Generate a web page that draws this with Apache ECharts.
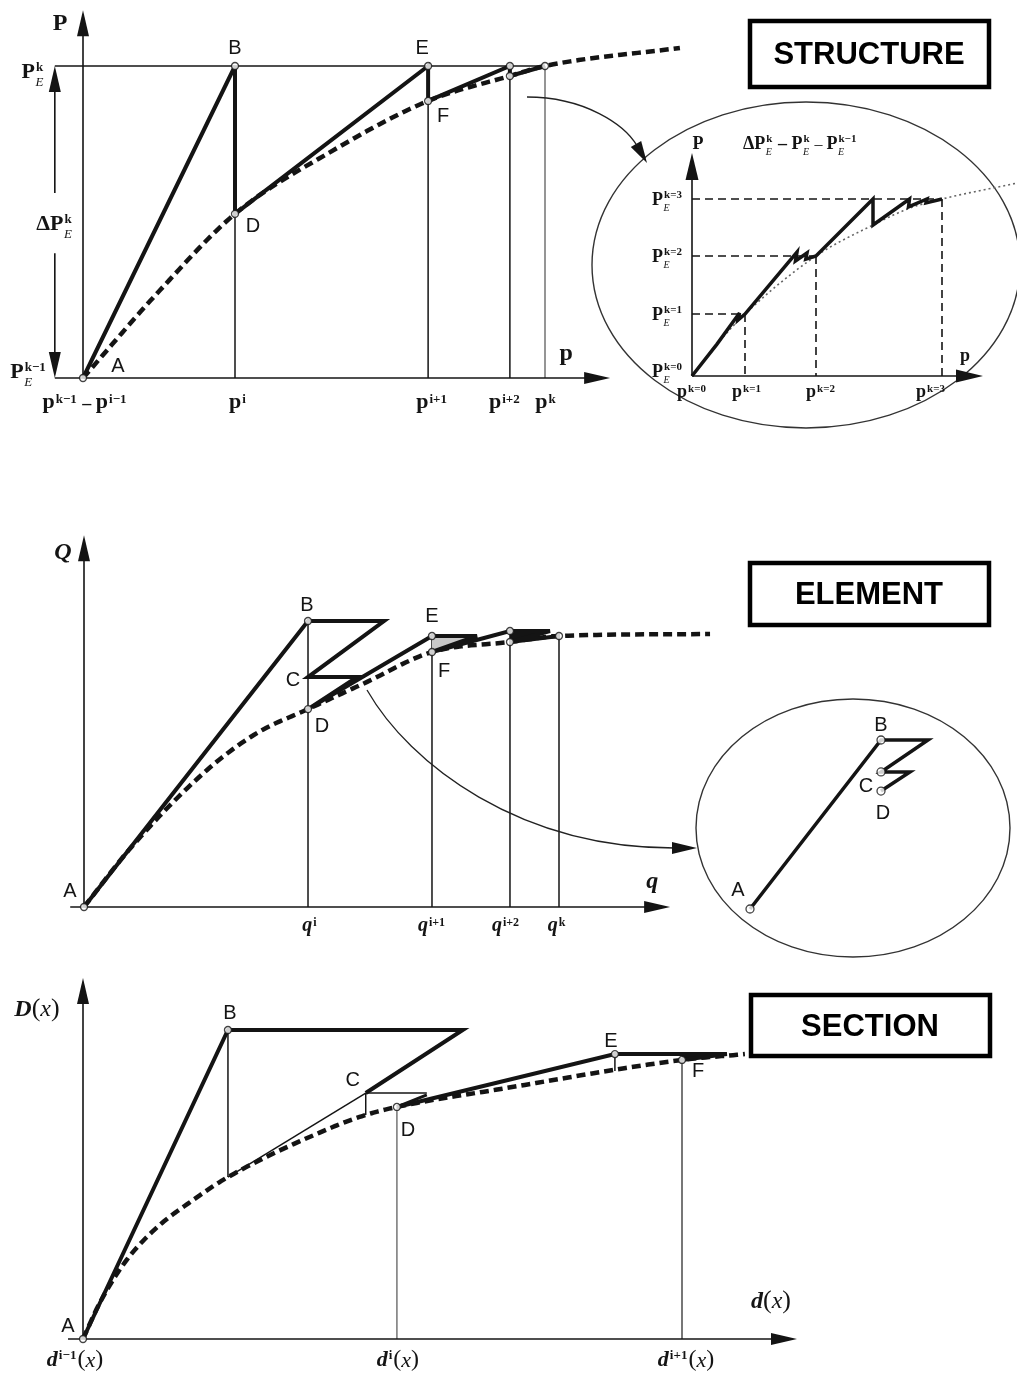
<!DOCTYPE html>
<html>
<head>
<meta charset="utf-8">
<title>Structure, element and section state determination</title>
<script src="https://cdn.jsdelivr.net/npm/echarts@6/dist/echarts.min.js"></script>
<style>
html,body{margin:0;padding:0;background:#fff;}
#chart{width:1017px;height:1385px;}
</style>
</head>
<body>
<div id="chart"></div>
<script>
// ---------- STRUCTURE level: load P vs displacement p (scaled so p^k = 1, P_E^k = 1)
const pTicks = [0, 0.329, 0.747, 0.924, 1];                 // p^{k-1}, p^i, p^{i+1}, p^{i+2}, p^k
const pTickSups = ['i', 'i+1', 'i+2', 'k'];
const structBackbone = [[0,0],[0.167,0.282],[0.329,0.526],[0.535,0.724],[0.747,0.888],[0.924,0.968],[1,1],[1.292,1.058]];
const structPath = [[0,0],[0.329,1],[0.329,0.526],[0.747,1],[0.747,0.888],[0.924,1],[0.924,0.968],[1,1]];

// ---------- STRUCTURE detail: load steps k = 0..3
const kTicksP  = [0, 0.212, 0.496, 1];
const kTicksPE = [0, 0.35, 0.678, 1];
const kBackbone = [[0,0],[0.1,0.18],[0.212,0.35],[0.496,0.678],[0.724,0.853],[0.872,0.949],[1,1],[1.3,1.09]];
const kPath = [[0,0],[0.1,0.18],[0.19,0.356],[0.184,0.316],[0.212,0.35],[0.42,0.7],[0.414,0.65],[0.46,0.695],[0.455,0.66],[0.496,0.678],[0.724,1],[0.724,0.853],[0.87,1],[0.866,0.955],[0.94,1],[0.936,0.978],[1,1]];

// ---------- ELEMENT level: Q vs q
const qTicks = [0.4716, 0.7326, 0.8968, 1];                  // q^i, q^{i+1}, q^{i+2}, q^k
const qTickSups = ['i', 'i+1', 'i+2', 'k'];
const elemBackbone = [[0,0],[0.1,0.21],[0.259,0.479],[0.364,0.608],[0.4716,0.692],[0.587,0.78],[0.7326,0.8916],[0.8968,0.9266],[1,0.9476],[1.318,0.9545]];
// A, B, B', C, C', D, E, E', F, G, G', H, K
const elemPath = [[0,0],[0.4716,1],[0.6316,1],[0.4716,0.804],[0.5747,0.804],[0.4716,0.692],[0.7326,0.9476],[0.8274,0.9476],[0.7326,0.8916],[0.8968,0.965],[0.981,0.965],[0.8968,0.9266],[1,0.9476]];
const elemNodes = [0, 1, 5, 6, 8, 9, 11, 12];

// ---------- ELEMENT detail: A, B, B', C, C', D
const elemDetail = [[0,0],[1,1],[1.359,1],[1,0.811],[1.221,0.811],[1,0.698]];
const elemDetailNodes = [0, 1, 3, 5];

// ---------- SECTION level: D(x) vs d(x)
const dTicks = [0, 0.524, 1];                                // d^{i-1}, d^i, d^{i+1}
const dTickSups = ['i−1', 'i', 'i+1'];
const sectBackbone = [[0,0],[0.028,0.117],[0.073,0.256],[0.124,0.362],[0.184,0.45],[0.242,0.524],[0.417,0.686],[0.472,0.725],[0.524,0.751],[0.7,0.81],[1,0.903],[1.105,0.922]];
const sectPathB = [[0,0],[0.242,1],[0.634,1],[0.472,0.796]];           // A, B, B', C
const sectPathE = [[0.524,0.751],[0.888,0.922],[1.075,0.922],[1,0.903]]; // D, E, E', F
const sectC = [0.472, 0.796], sectCBase = [0.472, 0.725], sectBBase = [0.242, 0.524];
const sectCEnd = [0.574, 0.796], sectEBase = [0.888, 0.867];

// ---------- drawing helpers
const INK = '#141414';
const SERIF = '"Liberation Serif","Times New Roman",serif';
const SANS = '"Liberation Sans",Arial,sans-serif';

const run = (t, size, style = 'bold', fam = SERIF) => ({ t, size, font: style + ' ' + size + 'px ' + fam });
const letter = t => run(t, 20, 'normal', SANS);
function idx(sup, sub, base, o = {}) {
  return {
    sup: sup ? run(sup, o.supSize || Math.round(base * 0.6), o.supStyle || 'bold') : null,
    sub: sub ? run(sub, o.subSize || Math.round(base * 0.58), 'italic') : null,
    rise: base * (o.lower ? 0.27 : 0.38),
    drop: base * 0.3,
    gap: 1
  };
}

const mctx = document.createElement('canvas').getContext('2d');
function textWidth(r) { mctx.font = r.font; return mctx.measureText(r.t).width; }

// lays out a run list with stacked super/subscripts; (x, y) is the baseline anchor
function mathElements(parts, x, y, align) {
  const pieces = [];
  let w = 0;
  parts.forEach(p => {
    if (p.t !== undefined) { pieces.push({ r: p, x: w, dy: 0 }); w += textWidth(p); }
    else {
      let m = 0;
      if (p.sup) { pieces.push({ r: p.sup, x: w + p.gap, dy: -p.rise }); m = Math.max(m, textWidth(p.sup)); }
      if (p.sub) { pieces.push({ r: p.sub, x: w + p.gap * 0.5, dy: p.drop }); m = Math.max(m, textWidth(p.sub)); }
      w += m + p.gap + 1;
    }
  });
  const x0 = align === 'center' ? x - w / 2 : align === 'right' ? x - w : x;
  return pieces.map(pc => ({
    type: 'text',
    style: {
      text: pc.r.t, x: x0 + pc.x, y: y + pc.dy - pc.r.size * 0.33,
      font: pc.r.font, fill: INK, textAlign: 'left', textVerticalAlign: 'middle', verticalAlign: 'middle'
    }
  }));
}

function labelSeries(g, specs) {
  return {
    type: 'custom', xAxisIndex: g, yAxisIndex: g, z: 10, silent: true,
    data: specs.map((s, i) => [s.at[0], s.at[1], i]),
    renderItem(params, api) {
      const s = specs[api.value(2)];
      const c = api.coord([api.value(0), api.value(1)]);
      return { type: 'group', children: mathElements(s.parts, c[0] + (s.dx || 0), c[1] + (s.dy || 0), s.align || 'center') };
    }
  };
}

function segSeries(g, segs, style, z = 1) {
  return {
    type: 'custom', xAxisIndex: g, yAxisIndex: g, z, silent: true, data: segs,
    renderItem(params, api) {
      const a = api.coord([api.value(0), api.value(1)]);
      const b = api.coord([api.value(2), api.value(3)]);
      return { type: 'line', shape: { x1: a[0], y1: a[1], x2: b[0], y2: b[1] },
        style: Object.assign({ stroke: INK, lineWidth: 1.4 }, style) };
    }
  };
}

function arrowSeries(g, segs, head = [26, 12], lw = 1.6) {
  return {
    type: 'custom', xAxisIndex: g, yAxisIndex: g, z: 4, silent: true, data: segs,
    renderItem(params, api) {
      const a = api.coord([api.value(0), api.value(1)]);
      const b = api.coord([api.value(2), api.value(3)]);
      const dx = b[0] - a[0], dy = b[1] - a[1], L = Math.hypot(dx, dy) || 1;
      const ux = dx / L, uy = dy / L;
      const bx = b[0] - ux * head[0], by = b[1] - uy * head[0];
      const nx = -uy * head[1] / 2, ny = ux * head[1] / 2;
      return { type: 'group', children: [
        { type: 'line', shape: { x1: a[0], y1: a[1], x2: bx + ux * 2, y2: by + uy * 2 }, style: { stroke: INK, lineWidth: lw } },
        { type: 'polygon', shape: { points: [[b[0], b[1]], [bx + nx, by + ny], [bx - nx, by - ny]] }, style: { fill: INK } }
      ] };
    }
  };
}

function fillSeries(g, polys, fill, z = 2) {
  return {
    type: 'custom', xAxisIndex: g, yAxisIndex: g, z, silent: true,
    data: polys.map((p, i) => [p[0][0], p[0][1], i]),
    renderItem(params, api) {
      const poly = polys[api.value(2)];
      return { type: 'polygon', shape: { points: poly.map(pt => api.coord(pt)) }, style: { fill } };
    }
  };
}

// monotone cubic (Fritsch–Carlson) through pixel points with increasing x
function monotone(pts) {
  const n = pts.length, d = [], m = [];
  for (let i = 0; i < n - 1; i++) d[i] = (pts[i + 1][1] - pts[i][1]) / (pts[i + 1][0] - pts[i][0]);
  m[0] = d[0]; m[n - 1] = d[n - 2];
  for (let i = 1; i < n - 1; i++) m[i] = d[i - 1] * d[i] <= 0 ? 0 : (d[i - 1] + d[i]) / 2;
  for (let i = 0; i < n - 1; i++) {
    if (d[i] === 0) { m[i] = m[i + 1] = 0; continue; }
    const a = m[i] / d[i], b = m[i + 1] / d[i], s = a * a + b * b;
    if (s > 9) { const t = 3 / Math.sqrt(s); m[i] = t * a * d[i]; m[i + 1] = t * b * d[i]; }
  }
  const out = [pts[0]];
  for (let i = 0; i < n - 1; i++) {
    const [x0, y0] = pts[i], [x1, y1] = pts[i + 1], h = x1 - x0;
    for (let k = 1; k <= 16; k++) {
      const t = k / 16, t2 = t * t, t3 = t2 * t;
      const y = (2 * t3 - 3 * t2 + 1) * y0 + (t3 - 2 * t2 + t) * h * m[i] + (-2 * t3 + 3 * t2) * y1 + (t3 - t2) * h * m[i + 1];
      out.push([x0 + t * h, y]);
    }
  }
  return out;
}

function pathSeries(g, path, width, o = {}) {
  return {
    type: 'custom', xAxisIndex: g, yAxisIndex: g, z: o.z || 3, silent: true, data: [path[0]],
    renderItem(params, api) {
      let pts = path.map(p => api.coord(p));
      if (o.smooth) pts = monotone(pts);
      return { type: 'polyline', shape: { points: pts },
        style: { stroke: o.color || INK, lineWidth: width, lineDash: o.dash || null, lineCap: o.cap || 'butt', lineJoin: 'miter', miterLimit: 4, fill: null } };
    }
  };
}

function nodeSeries(g, pts, size = 7) {
  return {
    type: 'scatter', xAxisIndex: g, yAxisIndex: g, data: pts, symbol: 'circle', symbolSize: size,
    z: 8, clip: false, silent: true, itemStyle: { color: '#fff', borderColor: INK, borderWidth: 1.3 }
  };
}

// ---------- text
const structLabels = [
  { at: [0, 1.179], dx: -23, dy: 22, parts: [run('P', 24)] },
  { at: [-0.061, 1], dx: -10, dy: 14, align: 'right', parts: [run('P', 22), idx('k', 'E', 22)] },
  { at: [-0.061, 0.5], dx: 0, dy: 10, parts: [run('ΔP', 22), idx('k', 'E', 22)] },
  { at: [-0.061, 0], dx: -8, dy: 2, align: 'right', parts: [run('P', 22), idx('k−1', 'E', 22)] },
  { at: [pTicks[0], 0], dx: 2, dy: 32, parts: [run('p', 22), idx('k−1', null, 22, { lower: true }), run(' – ', 18), run('p', 22), idx('i−1', null, 22, { lower: true })] },
  ...pTickSups.map((s, i) => ({ at: [pTicks[i + 1], 0], dx: [3, 4, -5, 1][i], dy: 32, parts: [run('p', 22), idx(s, null, 22, { lower: true })] })),
  { at: [1.141, 0], dx: -44, dy: -16, parts: [run('p', 24)] },
  { at: structPath[0], dx: 35, dy: -5, parts: [letter('A')] },
  { at: structPath[1], dx: 0, dy: -11, parts: [letter('B')] },
  { at: structPath[2], dx: 18, dy: 19, parts: [letter('D')] },
  { at: structPath[3], dx: -6, dy: -11, parts: [letter('E')] },
  { at: structPath[4], dx: 15, dy: 22, parts: [letter('F')] }
];

const kLabels = [
  { at: [0, 1.26], dx: 6, dy: -3, parts: [run('P', 18)] },
  { at: [0, 1.26], dx: 51, dy: -3, align: 'left', parts: [run('ΔP', 18), idx('k', 'E', 18), run(' – ', 18), run('P', 18), idx('k', 'E', 18), run(' – ', 16, 'normal'), run('P', 18), idx('k−1', 'E', 18)] },
  ...kTicksPE.map((v, k) => ({ at: [0, v], dx: -9, dy: k ? 7 : 2, align: 'right', parts: [run('P', 18), idx('k=' + k, 'E', 18)] })),
  ...kTicksP.map((v, k) => ({ at: [v, 0], dx: [0, 2, 5, -11][k], dy: 22, parts: [run('p', 18), idx('k=' + k, null, 18, { lower: true })] })),
  { at: [1.164, 0], dx: -18, dy: -14, parts: [run('p', 18)] }
];

const elemLabels = [
  { at: [0, 1.30], dx: -21, dy: 26, parts: [run('Q', 24, 'italic bold')] },
  { at: [1.234, 0], dx: -18, dy: -17, parts: [run('q', 24, 'italic bold')] },
  ...qTickSups.map((s, i) => ({ at: [qTicks[i], 0], dx: [2, 0, -4, -2][i], dy: 25, parts: [run('q', 20, 'italic bold'), idx(s, null, 20, { lower: true })] })),
  { at: elemPath[0], dx: -14, dy: -9, parts: [letter('A')] },
  { at: elemPath[1], dx: -1, dy: -9, parts: [letter('B')] },
  { at: elemPath[3], dx: -15, dy: 10, parts: [letter('C')] },
  { at: elemPath[5], dx: 14, dy: 24, parts: [letter('D')] },
  { at: elemPath[6], dx: 0, dy: -13, parts: [letter('E')] },
  { at: elemPath[8], dx: 12, dy: 26, parts: [letter('F')] }
];

const elemDetailLabels = [
  { at: elemDetail[0], dx: -12, dy: -12, parts: [letter('A')] },
  { at: elemDetail[1], dx: 0, dy: -8, parts: [letter('B')] },
  { at: elemDetail[3], dx: -15, dy: 21, parts: [letter('C')] },
  { at: elemDetail[5], dx: 2, dy: 29, parts: [letter('D')] }
];

const fx = (name, size) => [run(name, size, 'italic bold'), run('(', size + 2, 'normal'), run('x', size, 'italic'), run(')', size + 2, 'normal')];
const sectLabels = [
  { at: [0, 1.168], dx: -46, dy: 40, parts: fx('D', 24) },
  { at: [1.192, 0], dx: -26, dy: -29, parts: fx('d', 24) },
  ...dTickSups.map((s, i) => ({ at: [dTicks[i], 0], dx: [-8, 1, 4][i], dy: 29,
    parts: [run('d', 22, 'italic bold'), idx(s, null, 22), run('(', 24, 'normal'), run('x', 22, 'italic'), run(')', 24, 'normal')] })),
  { at: sectPathB[0], dx: -15, dy: -6, parts: [letter('A')] },
  { at: sectPathB[1], dx: 2, dy: -10, parts: [letter('B')] },
  { at: sectPathB[3], dx: -13, dy: -6, parts: [letter('C')] },
  { at: sectPathE[0], dx: 11, dy: 30, parts: [letter('D')] },
  { at: sectPathE[1], dx: -4, dy: -6, parts: [letter('E')] },
  { at: sectPathE[3], dx: 16, dy: 18, parts: [letter('F')] }
];

// ---------- decorations: level boxes, detail ellipses and connector arrows
function box(x, y, w, h, text, cx, cy) {
  return [
    { type: 'rect', z: 50, shape: { x, y, width: w, height: h }, style: { fill: '#fff', stroke: '#000', lineWidth: 4.5 } },
    { type: 'text', z: 51, style: { text, x: cx, y: cy, font: 'bold 31px ' + SANS, fill: '#000', textAlign: 'center', textVerticalAlign: 'middle', verticalAlign: 'middle' } }
  ];
}
function connector(p0, c1, c2, tip, len, w) {
  const dx = tip[0] - c2[0], dy = tip[1] - c2[1], L = Math.hypot(dx, dy);
  const ux = dx / L, uy = dy / L;
  const bx = tip[0] - ux * len, by = tip[1] - uy * len;
  const nx = -uy * w / 2, ny = ux * w / 2;
  return [
    { type: 'bezierCurve', z: 5, shape: { x1: p0[0], y1: p0[1], cpx1: c1[0], cpy1: c1[1], cpx2: c2[0], cpy2: c2[1], x2: bx + ux * 2, y2: by + uy * 2 },
      style: { stroke: '#222', lineWidth: 1.3, fill: null } },
    { type: 'polygon', z: 5, shape: { points: [tip, [bx + nx, by + ny], [bx - nx, by - ny]] }, style: { fill: INK } }
  ];
}
const decor = [
  { type: 'ellipse', z: 0, shape: { cx: 806, cy: 265, rx: 214, ry: 163 }, style: { fill: null, stroke: '#333', lineWidth: 1.4 } },
  { type: 'ellipse', z: 0, shape: { cx: 853, cy: 828, rx: 157, ry: 129 }, style: { fill: null, stroke: '#333', lineWidth: 1.4 } },
  ...box(750, 21, 239, 66, 'STRUCTURE', 869, 55),
  ...box(750, 563, 239, 62, 'ELEMENT', 869, 595),
  ...box(751, 995, 239, 61, 'SECTION', 870, 1027),
  ...connector([527, 97], [585, 97], [625, 125], [647, 163], 22, 12),
  ...connector([367, 690], [410, 765], [520, 848], [697, 848], 25, 12)
];

// ---------- coordinate systems
const grids = [
  { left: 83, top: 66, width: 462, height: 312 },    // structure
  { left: 692, top: 199, width: 250, height: 177 },  // structure detail
  { left: 84, top: 621, width: 475, height: 286 },   // element
  { left: 750, top: 740, width: 131, height: 169 },  // element detail
  { left: 83, top: 1030, width: 599, height: 309 }   // section
];

const DASH = [9, 5];
const series = [
  // structure
  arrowSeries(0, [[0, 0, 0, 1.179], [-0.061, 0, 1.141, 0], [-0.061, 0.593, -0.061, 1], [-0.061, 0.40, -0.061, 0]], [26, 12]),
  segSeries(0, [[-0.061, 1, pTicks[4], 1], ...pTicks.slice(1, 4).map(v => [v, 1, v, 0])], { lineWidth: 1.5 }),
  segSeries(0, [[pTicks[4], 1, pTicks[4], 0]], { stroke: '#8a8a8a', lineWidth: 1.8 }),
  pathSeries(0, structBackbone, 4.5, { dash: DASH, smooth: true, z: 2 }),
  pathSeries(0, structPath, 4, { z: 3 }),
  nodeSeries(0, structPath),
  labelSeries(0, structLabels),

  // structure detail
  arrowSeries(1, [[0, 0, 0, 1.26], [0, 0, 1.164, 0]], [27, 13]),
  segSeries(1, [1, 2, 3].flatMap(k => [[0, kTicksPE[k], kTicksP[k], kTicksPE[k]], [kTicksP[k], kTicksPE[k], kTicksP[k], 0]]), { lineWidth: 1.6, lineDash: [8, 5] }),
  pathSeries(1, kBackbone, 1.6, { dash: [2, 3], color: '#666', smooth: true, z: 2 }),
  pathSeries(1, kPath, 3.5, { z: 3 }),
  labelSeries(1, kLabels),

  // element
  arrowSeries(2, [[0, 0, 0, 1.30], [-0.029, 0, 1.234, 0]], [26, 12]),
  segSeries(2, [[qTicks[0], elemPath[1][1], qTicks[0], 0], [qTicks[1], elemPath[6][1], qTicks[1], 0], [qTicks[2], elemPath[9][1], qTicks[2], 0], [qTicks[3], elemPath[12][1], qTicks[3], 0]], { lineWidth: 1.5 }),
  fillSeries(2, [[elemPath[6], elemPath[7], elemPath[8]]], '#c8c8c8', 2),
  fillSeries(2, [[elemPath[9], elemPath[10], elemPath[11]]], INK, 3),
  pathSeries(2, elemBackbone, 4.5, { dash: DASH, smooth: true, z: 2 }),
  pathSeries(2, elemPath, 4, { z: 3 }),
  nodeSeries(2, elemNodes.map(i => elemPath[i])),
  labelSeries(2, elemLabels),

  // element detail
  pathSeries(3, elemDetail, 3.5, { z: 3 }),
  nodeSeries(3, elemDetailNodes.map(i => elemDetail[i]), 8),
  labelSeries(3, elemDetailLabels),

  // section
  arrowSeries(4, [[0, 0, 0, 1.168], [-0.025, 0, 1.192, 0]], [26, 12]),
  segSeries(4, [[sectPathB[1][0], sectPathB[1][1], sectBBase[0], sectBBase[1]], [sectBBase[0], sectBBase[1], sectC[0], sectC[1]],
    [sectC[0], sectC[1], sectCBase[0], sectCBase[1]], [sectC[0], sectC[1], sectCEnd[0], sectCEnd[1]],
    [sectPathE[1][0], sectPathE[1][1], sectEBase[0], sectEBase[1]]], { lineWidth: 1.5 }),
  segSeries(4, [[dTicks[1], sectPathE[0][1], dTicks[1], 0]], { stroke: '#8a8a8a', lineWidth: 1.8 }),
  segSeries(4, [[dTicks[2], sectPathE[3][1], dTicks[2], 0]], { stroke: '#555', lineWidth: 1.6 }),
  fillSeries(4, [[sectPathE[2], sectPathE[3], [dTicks[2], sectPathE[2][1]]]], INK, 3),
  pathSeries(4, sectBackbone, 4.5, { dash: DASH, smooth: true, z: 2 }),
  pathSeries(4, sectPathB, 4, { z: 3 }),
  pathSeries(4, sectPathE, 4, { z: 3 }),
  pathSeries(4, [sectPathE[0], [sectCEnd[0], sectCEnd[1] - 0.006]], 3, { z: 3 }),
  nodeSeries(4, [sectPathB[0], sectPathB[1], sectPathE[0], sectPathE[1], sectPathE[3]]),
  labelSeries(4, sectLabels)
];

const chart = echarts.init(document.getElementById('chart'), null, { renderer: 'canvas' });
chart.setOption({
  animation: false,
  backgroundColor: '#fff',
  grid: grids,
  xAxis: grids.map((g, i) => ({ type: 'value', gridIndex: i, min: 0, max: 1, show: false })),
  yAxis: grids.map((g, i) => ({ type: 'value', gridIndex: i, min: 0, max: 1, show: false })),
  graphic: { elements: decor },
  series
});
</script>
</body>
</html>
